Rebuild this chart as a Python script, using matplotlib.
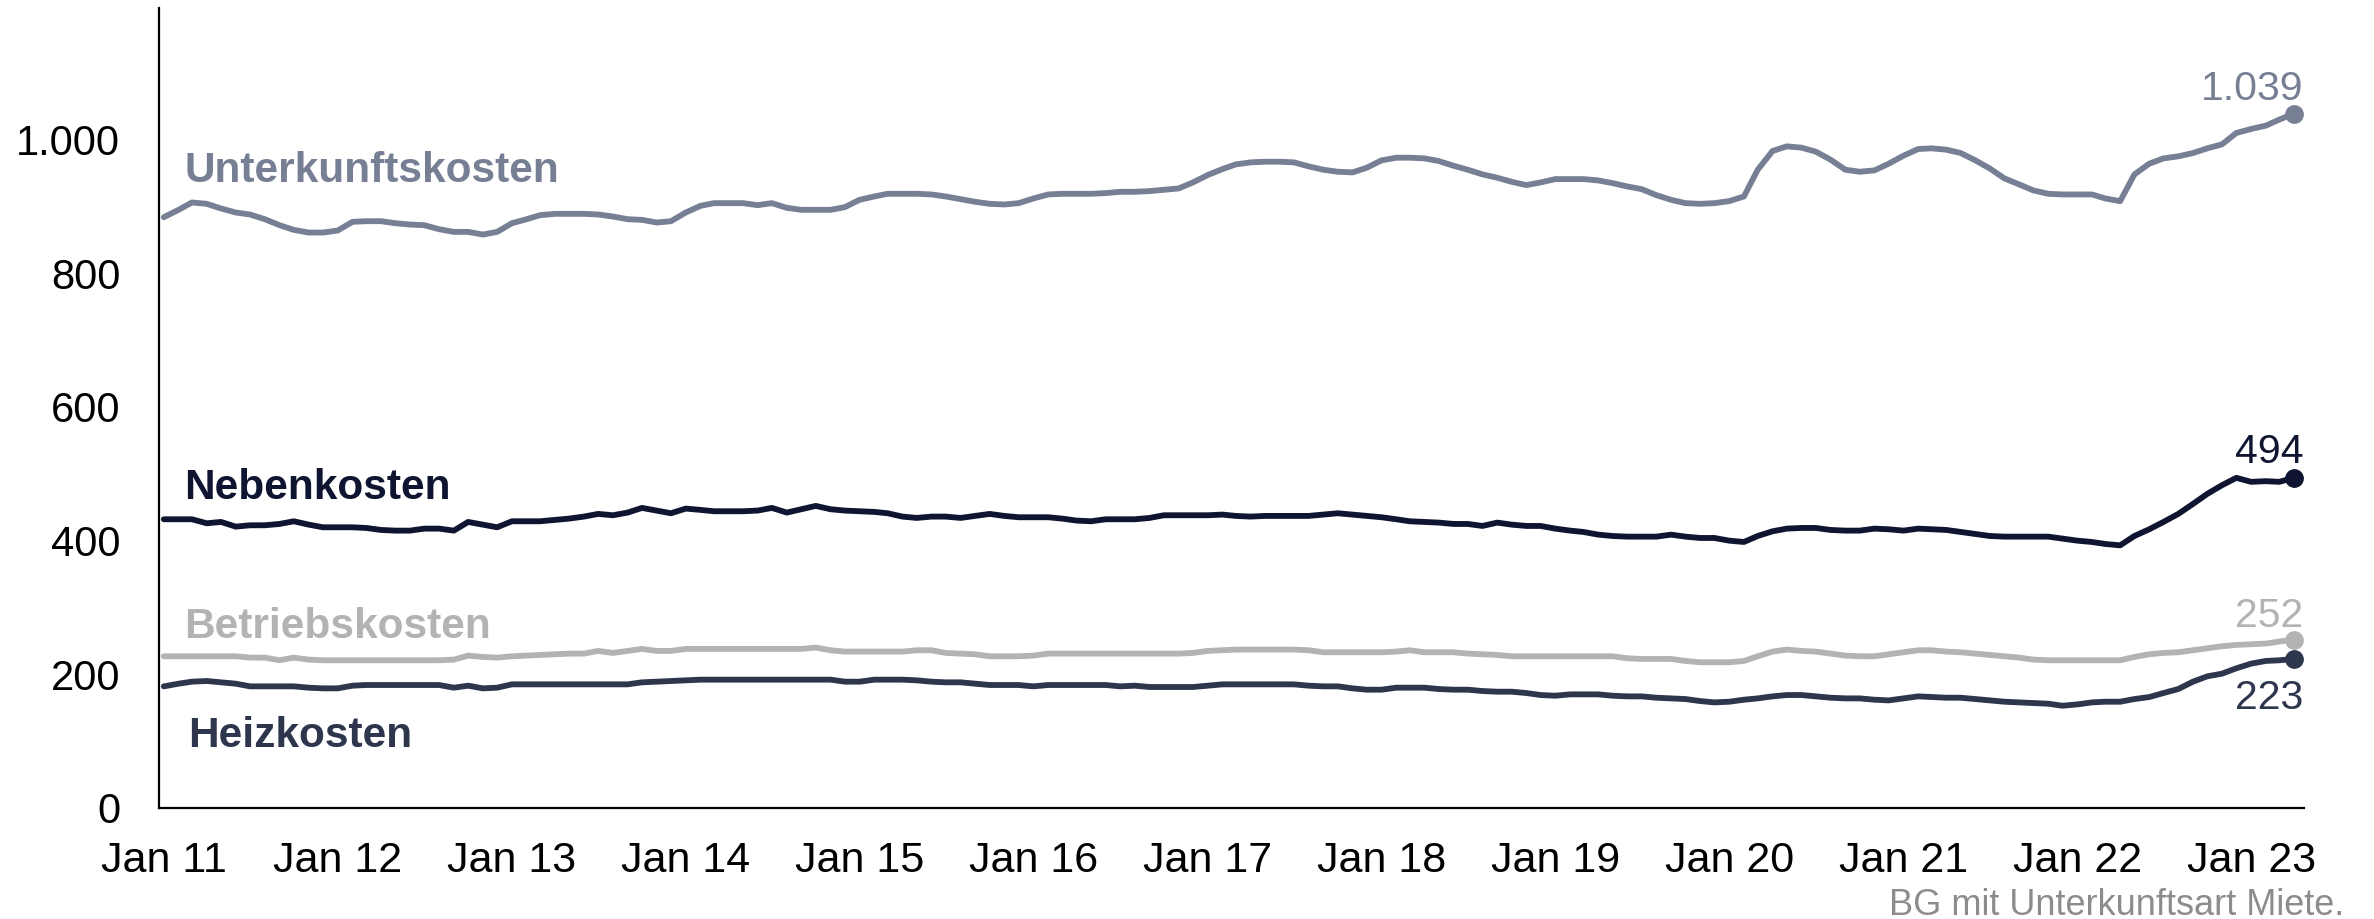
import matplotlib
matplotlib.use("Agg")
import matplotlib.pyplot as plt
from matplotlib.ticker import FuncFormatter
import pandas as pd

plt.rcParams['font.family'] = ['Liberation Sans', 'DejaVu Sans']

months = pd.date_range('2011-01-01', periods=148, freq='MS')

unterkunft = [884, 895, 906, 904, 897, 891, 888, 881, 872, 865, 861, 861,
              864, 877, 878, 878, 875, 873, 872, 866, 862, 862, 858, 862,
              875, 881, 887, 889, 889, 889, 888, 885, 881, 880, 876, 878,
              891, 901, 905, 905, 905, 902, 905, 898, 895, 895, 895, 899,
              910, 915, 919, 919, 919, 918, 915, 911, 907, 904, 903, 905,
              912, 918, 919, 919, 919, 920, 922, 922, 923, 925, 927, 936,
              947, 956, 963, 966, 967, 967, 966, 960, 955, 952, 951, 958,
              969, 973, 973, 972, 968, 961, 955, 948, 943, 937, 932, 936,
              941, 941, 941, 939, 935, 930, 926, 917, 910, 905, 904, 905,
              908, 915, 955, 983, 990, 988, 982, 970, 955, 952, 954, 964,
              976, 986, 987, 985, 980, 969, 957, 942, 933, 924, 919, 918,
              918, 918, 912, 908, 948, 964, 972, 975, 980, 987, 993, 1010,
              1016, 1021, 1030, 1039]

neben = [432, 432, 432, 426, 428, 421, 423, 423, 425, 429, 424, 420,
         420, 420, 419, 416, 415, 415, 418, 418, 415, 428, 424, 420,
         429, 429, 429, 431, 433, 436, 440, 438, 442, 449, 445, 441,
         448, 446, 444, 444, 444, 445, 449, 442, 447, 452, 447, 445,
         444, 443, 441, 436, 434, 436, 436, 434, 437, 440, 437, 435,
         435, 435, 433, 430, 429, 432, 432, 432, 434, 438, 438, 438,
         438, 439, 437, 436, 437, 437, 437, 437, 439, 441, 439, 437,
         435, 432, 429, 428, 427, 425, 425, 422, 427, 424, 422, 422,
         418, 415, 413, 409, 407, 406, 406, 406, 409, 406, 404, 404,
         400, 398, 407, 414, 418, 419, 419, 416, 415, 415, 418, 417,
         415, 418, 417, 416, 413, 410, 407, 406, 406, 406, 406, 403,
         400, 398, 395, 393, 407, 417, 428, 440, 455, 470, 483, 494,
         488, 489, 488, 494]

betrieb = [227, 227, 227, 227, 227, 227, 225, 225, 221, 225, 222, 221,
           221, 221, 221, 221, 221, 221, 221, 221, 222, 228, 226, 225,
           227, 228, 229, 230, 231, 231, 235, 232, 235, 238, 235, 235,
           238, 238, 238, 238, 238, 238, 238, 238, 238, 240, 236, 234,
           234, 234, 234, 234, 236, 236, 232, 231, 230, 227, 227, 227,
           228, 231, 231, 231, 231, 231, 231, 231, 231, 231, 231, 232,
           235, 236, 237, 237, 237, 237, 237, 236, 233, 233, 233, 233,
           233, 234, 236, 233, 233, 233, 231, 230, 229, 227, 227, 227,
           227, 227, 227, 227, 227, 224, 223, 223, 223, 220, 218, 218,
           218, 220, 227, 234, 237, 235, 234, 231, 228, 227, 227, 230,
           233, 236, 236, 234, 233, 231, 229, 227, 225, 222, 221, 221,
           221, 221, 221, 221, 226, 230, 232, 233, 236, 239, 242, 244,
           245, 246, 249, 252]

heiz = [182, 186, 189, 190, 188, 186, 182, 182, 182, 182, 180, 179,
        179, 183, 184, 184, 184, 184, 184, 184, 180, 183, 179, 180,
        185, 185, 185, 185, 185, 185, 185, 185, 185, 188, 189, 190,
        191, 192, 192, 192, 192, 192, 192, 192, 192, 192, 192, 189,
        189, 192, 192, 192, 191, 189, 188, 188, 186, 184, 184, 184,
        182, 184, 184, 184, 184, 184, 182, 183, 181, 181, 181, 181,
        183, 185, 185, 185, 185, 185, 185, 183, 182, 182, 179, 177,
        177, 180, 180, 180, 178, 177, 177, 175, 174, 174, 172, 169,
        168, 170, 170, 170, 168, 167, 167, 165, 164, 163, 160, 158,
        159, 162, 164, 167, 169, 169, 167, 165, 164, 164, 162, 161,
        164, 167, 166, 165, 165, 163, 161, 159, 158, 157, 156, 153,
        155, 158, 159, 159, 163, 166, 172, 178, 189, 197, 201, 209,
        216, 220, 221, 223]

series_names = ['Unterkunftskosten', 'Nebenkosten', 'Betriebskosten', 'Heizkosten']
end_labels = ['1.039', '494', '252', '223']
yticks = [0, 200, 400, 600, 800, 1000]
xtick_labels = ['Jan %02d' % y for y in range(11, 24)]

colors = ['#767f93', '#0f1531', '#b3b3b3', '#2e364d']
data = [unterkunft, neben, betrieb, heiz]

fig = plt.figure(figsize=(23.74, 9.19), dpi=100)
ax = fig.add_axes([0.067, 0.1208, 0.9035, 0.8705])

for vals, col in zip(data, colors):
    ax.plot(months, vals, color=col, lw=4.2, solid_joinstyle='round', solid_capstyle='round')
    ax.plot(months[-1:], vals[-1:], 'o', color=col, ms=12.5)

ax.set_ylim(0, 1197)
ax.set_xlim(months[0] - pd.Timedelta(days=10), months[-1] + pd.Timedelta(days=21))

ax.set_yticks(yticks)
ax.yaxis.set_major_formatter(FuncFormatter(lambda v, p: f"{int(v):,}".replace(",", ".")))
xt = pd.date_range('2011-01-01', periods=13, freq='YS')
ax.set_xticks(xt)
ax.set_xticklabels(xtick_labels)

ax.tick_params(axis='both', length=0, colors='black')
ax.tick_params(axis='x', pad=24, labelsize=31)
ax.tick_params(axis='y', pad=28, labelsize=30)

for s in ['top', 'right']:
    ax.spines[s].set_visible(False)
for s in ['left', 'bottom']:
    ax.spines[s].set_linewidth(1.6)
    ax.spines[s].set_color('black')

# series labels
label_y = [936, 462, 255, 91]
label_dx = [43, 43, 43, 52]
for name, yv, col, dx in zip(series_names, label_y, colors, label_dx):
    ax.text(months[0] + pd.Timedelta(days=dx), yv, name, color=col, fontsize=30.5,
            fontweight='bold', ha='left', va='baseline')

# end labels
end_offsets = [(7, 10), (7, 11), (7, 9), (7, -36)]
for lab, vals, col, off in zip(end_labels, data, colors, end_offsets):
    ax.annotate(lab, (months[-1], vals[-1]), xytext=off, textcoords='offset points',
                ha='right', va='baseline', fontsize=29.5, color=col)

fig.text(0.9875, 0.004, 'BG mit Unterkunftsart Miete.', ha='right', va='baseline',
         fontsize=26, color='#8c8c8c')

fig.savefig('out.png', dpi=100)
